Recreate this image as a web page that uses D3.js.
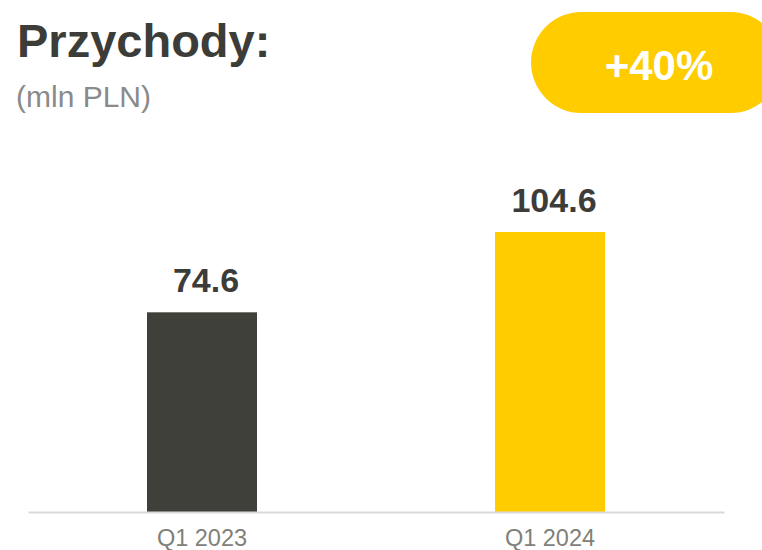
<!DOCTYPE html>
<html>
<head>
<meta charset="utf-8">
<script src="https://cdn.jsdelivr.net/npm/d3@7"></script>
<style>
  html, body { margin: 0; padding: 0; background: #ffffff; }
  svg { display: block; font-family: "Liberation Sans", Arial, sans-serif; }
</style>
</head>
<body>
<svg id="chart" width="762" height="550"></svg>
<script>
// Revenue, quarterly comparison (mln PLN)
const categories = ["Q1 2023", "Q1 2024"];
const values = [74.6, 104.6];
const valueLabels = ["74.6", "104.6"];
const barColors = ["#3f403a", "#ffcc00"];
const growthLabel = "+40%";

const svg = d3.select("#chart");

// Title block
svg.append("text")
  .attr("x", 17).attr("y", 57)
  .attr("font-size", 47).attr("font-weight", "bold")
  .attr("fill", "#3c3c39")
  .text("Przychody:");

svg.append("text")
  .attr("x", 16).attr("y", 107)
  .attr("font-size", 30)
  .attr("fill", "#8a8a8a")
  .text("(mln PLN)");

// Growth badge
svg.append("rect")
  .attr("x", 531).attr("y", 12)
  .attr("width", 250).attr("height", 101)
  .attr("rx", 50.5).attr("ry", 50.5)
  .attr("fill", "#ffcc00");

svg.append("text")
  .attr("x", 659).attr("y", 80)
  .attr("text-anchor", "middle")
  .attr("font-size", 42).attr("font-weight", "bold")
  .attr("fill", "#ffffff")
  .text(growthLabel);

// Scales
const x = d3.scaleBand().domain(categories).range([28, 724]).padding(0);
const y = d3.scaleLinear().domain([0, 104.6]).range([512, 232]);
const barW = 110;

const data = categories.map((c, i) => ({ c, v: values[i], label: valueLabels[i], color: barColors[i] }));

// Bars
svg.selectAll("rect.bar").data(data).enter().append("rect")
  .attr("class", "bar")
  .attr("x", d => x(d.c) + x.bandwidth() / 2 - barW / 2)
  .attr("y", d => y(d.v))
  .attr("width", barW)
  .attr("height", d => y(0) - y(d.v))
  .attr("fill", d => d.color);

// Value labels, sitting slightly right of the bar centre
svg.selectAll("text.val").data(data).enter().append("text")
  .attr("class", "val")
  .attr("x", d => x(d.c) + x.bandwidth() / 2 + 4)
  .attr("y", d => y(d.v) - 20)
  .attr("text-anchor", "middle")
  .attr("font-size", 34).attr("font-weight", "bold")
  .attr("fill", "#3c3c39")
  .text(d => d.label);

// Category axis
const axis = d3.axisBottom(x).tickSize(0).tickPadding(0);
const g = svg.append("g").attr("transform", `translate(0,${y(0)})`).call(axis);
g.select(".domain").attr("stroke", "#d9d9d9").attr("stroke-width", 2);
g.selectAll(".tick text")
  .attr("dy", null)
  .attr("y", 34)
  .attr("font-size", 23.5)
  .attr("font-family", "Liberation Sans, Arial, sans-serif")
  .attr("fill", "#7f807a");
</script>
</body>
</html>
